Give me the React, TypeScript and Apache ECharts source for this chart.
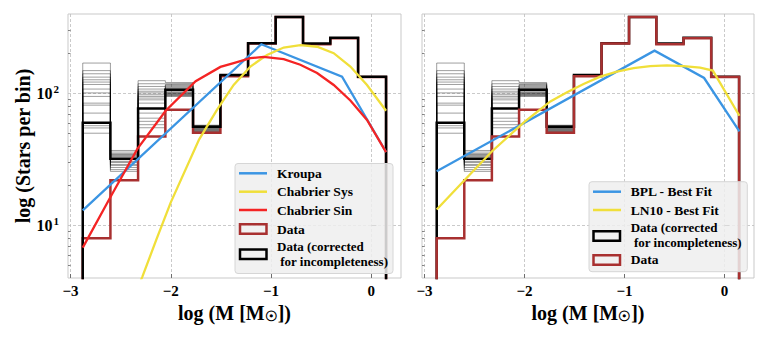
import React, { useEffect, useRef } from 'react';
import * as echarts from 'echarts';

// ---------- data ----------
const binEdges = [-2.878, -2.602, -2.326, -2.054, -1.778, -1.505, -1.229, -0.954, -0.681, -0.409, -0.132, 0.147];
const dataCounts = [8, 22, 47.3, 75.3, 50.5, 135, 239, 380, 236, 262, 133];
const correctedCounts = [60, 32, 77, 106.6, 56, 137.8, 240, 380, 239, 264, 133.7];

// realizations of the incompleteness correction (first five bins)
const realBin1 = [170, 149, 141, 133, 127, 122, 117, 108, 101, 95, 84.5, 81.6, 71, 57, 54.8, 50];
const realBin2 = [37, 36, 35, 34.5, 34, 33.5, 33, 32, 31.5, 30.5, 30, 29, 28.5, 27.5, 26.5, 25.7];
const realBin3 = [125, 118.5, 113, 108, 104, 101, 97.8, 95, 92.3, 89.5, 84.5, 71, 65, 61.5, 58, 55];
const realBin4 = [121, 119, 117, 115, 113, 111, 109, 104, 102, 101, 100, 99, 98, 97, 96, 95];
const realBin5 = [57.5, 57, 56.5, 56, 55.5, 55, 54.5, 54, 53.5, 53, 52.5, 52, 51.5, 51, 50.5, 50];

const kroupaX = [-2.878, -1.097, -0.292, 0.147];
const kroupaY = [13, 236, 134, 36];

const chabSinX = [-2.878, -2.6, -2.333, -2.051, -1.752, -1.505, -1.373, -1.206, -1.074, -0.874, -0.708, -0.541, -0.375, -0.209, -0.043, 0.147];
const chabSinY = [6.8, 16.5, 38, 74, 124, 159, 170, 185, 189, 182, 165, 143, 116, 88.5, 63, 36];

const chabSysX = [-2.4, -2.283, -2.144, -2.001, -1.718, -1.538, -1.373, -1.206, -1.04, -0.874, -0.708, -0.541, -0.375, -0.209, -0.043, 0.147];
const chabSysY = [2.5, 4.1, 7.8, 14.9, 44.7, 75.3, 116, 160, 196, 223, 232, 226, 202, 160, 116, 74];

const bplX = [-2.878, -0.699, -0.203, 0.15];
const bplY = [25.7, 211, 131, 51.6];

const ln10X = [-2.878, -2.61, -2.324, -2.0, -1.741, -1.574, -1.409, -1.242, -1.075, -0.909, -0.742, -0.575, -0.41, -0.243, -0.116, 0.15];
const ln10Y = [13.2, 21.6, 36.5, 61, 87, 102, 118, 134, 146.5, 155.5, 161, 163, 161, 157, 149, 67.8];

const xTicks = [-3, -2, -1, 0];
const yMajor = [10, 100];
const yMinor = [5, 6, 7, 8, 9, 20, 30, 40, 50, 60, 70, 80, 90, 200, 300];

// ---------- styling ----------
const FONT = 'Liberation Serif';
const C_BLUE = '#3b95e3';
const C_YELLOW = '#f0df3a';
const C_RED = '#f42424';
const C_BROWN = '#a83030';
const lg = (v: number) => Math.log10(v);
const Y_MIN = lg(4);
const Y_MAX = lg(400);
const X_MIN = -3.025;
const X_MAX = 0.296;
const BOTTOM = 0;

function stepLine(values: number[]) {
  const pts: number[][] = [[binEdges[0], BOTTOM]];
  values.forEach((v, i) => {
    pts.push([binEdges[i], lg(v)]);
    pts.push([binEdges[i + 1], lg(v)]);
  });
  pts.push([binEdges[binEdges.length - 1], BOTTOM]);
  return pts;
}
const curve = (xs: number[], ys: number[]) => xs.map((x, i) => [x, lg(ys[i])]);

function lineSeries(data: number[][], color: string, width: number, xi: number, yi: number, z: number, opacity = 1) {
  return {
    type: 'line', data, xAxisIndex: xi, yAxisIndex: yi, symbol: 'none', showSymbol: false,
    smooth: false, silent: true, clip: true, z, animation: false,
    lineStyle: { color, width, opacity, cap: 'butt', join: 'miter' },
    emphasis: { disabled: true },
  };
}

const realizations = realBin1.map((_, k) => [realBin1[k], realBin2[k], realBin3[k], realBin4[k], realBin5[k], ...correctedCounts.slice(5)]);

function xAxisCfg(gi: number) {
  return {
    type: 'value', gridIndex: gi, min: X_MIN, max: X_MAX,
    axisLine: { show: false },
    axisTick: { show: true, inside: true, length: 4, customValues: xTicks, lineStyle: { color: '#555', width: 0.8 } },
    axisLabel: {
      customValues: xTicks, margin: 5, color: '#000', fontFamily: FONT, fontWeight: 'bold', fontSize: 15,
      formatter: (v: number) => String(Math.round(v)).replace('-', '\u2212'),
    },
    splitLine: { show: true, lineStyle: { color: '#bdbdbd', type: [3, 2], width: 0.8 } },
    name: '{n|log (M [M}{s|\u2609}{n|])}', nameLocation: 'middle', nameGap: 22,
    nameTextStyle: {
      rich: {
        n: { fontFamily: FONT, fontWeight: 'bold', fontSize: 20, color: '#000' },
        s: { fontFamily: FONT, fontWeight: 'bold', fontSize: 14, color: '#000', padding: [8, 0, 0, 0] },
      },
    },
  };
}

function yMajorCfg(gi: number, labels: boolean) {
  return {
    type: 'value', gridIndex: gi, min: Y_MIN, max: Y_MAX, position: 'left', offset: 0,
    axisLine: { show: false },
    axisTick: { show: true, inside: true, length: 5, customValues: yMajor.map(lg), lineStyle: { color: '#444', width: 0.9 } },
    axisLabel: {
      show: labels, customValues: yMajor.map(lg), margin: 9, color: '#000',
      formatter: (v: number) => '{b|10}{s|' + Math.round(v) + '}',
      rich: {
        b: { fontFamily: FONT, fontWeight: 'bold', fontSize: 16, color: '#000' },
        s: { fontFamily: FONT, fontWeight: 'bold', fontSize: 11, color: '#000', padding: [0, 0, 9, 1] },
      },
    },
    splitLine: { show: true, lineStyle: { color: '#bdbdbd', type: [3, 2], width: 0.8 } },
    name: labels ? 'log (Stars per bin)' : '', nameLocation: 'middle', nameGap: 34,
    nameTextStyle: { fontFamily: FONT, fontWeight: 'bold', fontSize: 20, color: '#000' },
  };
}
function yMinorCfg(gi: number) {
  return {
    type: 'value', gridIndex: gi, min: Y_MIN, max: Y_MAX, position: 'left', offset: 0,
    axisLine: { show: false },
    axisTick: { show: true, inside: true, length: 2.5, customValues: yMinor.map(lg), lineStyle: { color: '#555', width: 0.7 } },
    axisLabel: { show: false },
    splitLine: { show: false },
  };
}

// ---------- legend (drawn as graphics) ----------
function legendLine(x: number, y: number, color: string) {
  return { type: 'line', z: 101, silent: true, shape: { x1: x, y1: y, x2: x + 28, y2: y }, style: { stroke: color, lineWidth: 2.5 } };
}
function legendBox(x: number, y: number, color: string) {
  return { type: 'rect', z: 101, silent: true, shape: { x, y, width: 26.5, height: 9.5 }, style: { stroke: color, lineWidth: 2.5, fill: 'none' } };
}
function legendText(x: number, y: number, text: string, size = 13.5, lh = 15) {
  return {
    type: 'text', z: 102, silent: true, x, y,
    style: { text, fontFamily: FONT, fontWeight: 'bold', fontSize: size, lineHeight: lh, fill: '#000', verticalAlign: 'middle', align: 'left' },
  };
}
function legendFrame(x: number, y: number, w: number, h: number) {
  return { type: 'rect', z: 100, silent: true, shape: { x, y, width: w, height: h, r: 3 }, style: { fill: 'rgba(238,238,238,0.85)', stroke: '#d6d6d6', lineWidth: 1 } };
}
const CORRECTED_LABEL = 'Data (corrected\n for incompleteness)';

export default function App() {
  const ref = useRef<HTMLDivElement>(null);
  useEffect(() => {
    if (!ref.current) return;
    const chart = echarts.init(ref.current, undefined, { renderer: 'svg' });
    const series: any[] = [];
    // left panel
    realizations.forEach((r) => series.push(lineSeries(stepLine(r), '#000', 1, 0, 0, 2, 0.38)));
    series.push(lineSeries(stepLine(dataCounts), C_BROWN, 2.5, 0, 0, 3));
    series.push(lineSeries(stepLine(correctedCounts), '#000', 2.5, 0, 0, 4));
    series.push(lineSeries(curve(kroupaX, kroupaY), C_BLUE, 2.3, 0, 0, 5));
    series.push(lineSeries(curve(chabSysX, chabSysY), C_YELLOW, 2.3, 0, 0, 5));
    series.push(lineSeries(curve(chabSinX, chabSinY), C_RED, 2.3, 0, 0, 5));
    // right panel
    realizations.forEach((r) => series.push(lineSeries(stepLine(r), '#000', 1, 1, 2, 2, 0.38)));
    series.push(lineSeries(stepLine(correctedCounts), '#000', 2.5, 1, 2, 3));
    series.push(lineSeries(stepLine(dataCounts), C_BROWN, 2.5, 1, 2, 4));
    series.push(lineSeries(curve(bplX, bplY), C_BLUE, 2.3, 1, 2, 5));
    series.push(lineSeries(curve(ln10X, ln10Y), C_YELLOW, 2.3, 1, 2, 5));

    chart.setOption({
      animation: false,
      backgroundColor: '#fff',
      textStyle: { fontFamily: FONT },
      grid: [
        { left: 68, top: 14, width: 333, height: 264, show: true, borderColor: '#c9c9c9', borderWidth: 1, backgroundColor: 'transparent' },
        { left: 422, top: 14, width: 332, height: 264, show: true, borderColor: '#c9c9c9', borderWidth: 1, backgroundColor: 'transparent' },
      ],
      xAxis: [xAxisCfg(0), xAxisCfg(1)],
      yAxis: [yMajorCfg(0, true), yMinorCfg(0), yMajorCfg(1, false), yMinorCfg(1)],
      series,
      graphic: [
        legendFrame(235, 163.5, 158, 110),
        legendLine(239, 173.3, C_BLUE), legendText(277, 173.3, 'Kroupa'),
        legendLine(239, 191.7, C_YELLOW), legendText(277, 191.7, 'Chabrier Sys'),
        legendLine(239, 210, C_RED), legendText(277, 210, 'Chabrier Sin'),
        legendBox(240, 224.3, C_BROWN), legendText(277, 229, 'Data'),
        legendBox(240, 249.5, '#000'), legendText(277, 253.5, CORRECTED_LABEL, 13, 15),

        legendFrame(589, 181.7, 158.3, 90),
        legendLine(593, 191.7, C_BLUE), legendText(630.7, 191.7, 'BPL - Best Fit'),
        legendLine(593, 210, C_YELLOW), legendText(630.7, 210, 'LN10 - Best Fit'),
        legendBox(593.5, 231.3, '#000'), legendText(630.7, 235.2, CORRECTED_LABEL, 13, 15),
        legendBox(593.5, 255.3, C_BROWN), legendText(630.7, 259.3, 'Data'),
      ],
    });
    return () => chart.dispose();
  }, []);
  return <div ref={ref} style={{ position: 'fixed', left: 0, top: 0, width: 768, height: 342, background: '#fff' }} />;
}
